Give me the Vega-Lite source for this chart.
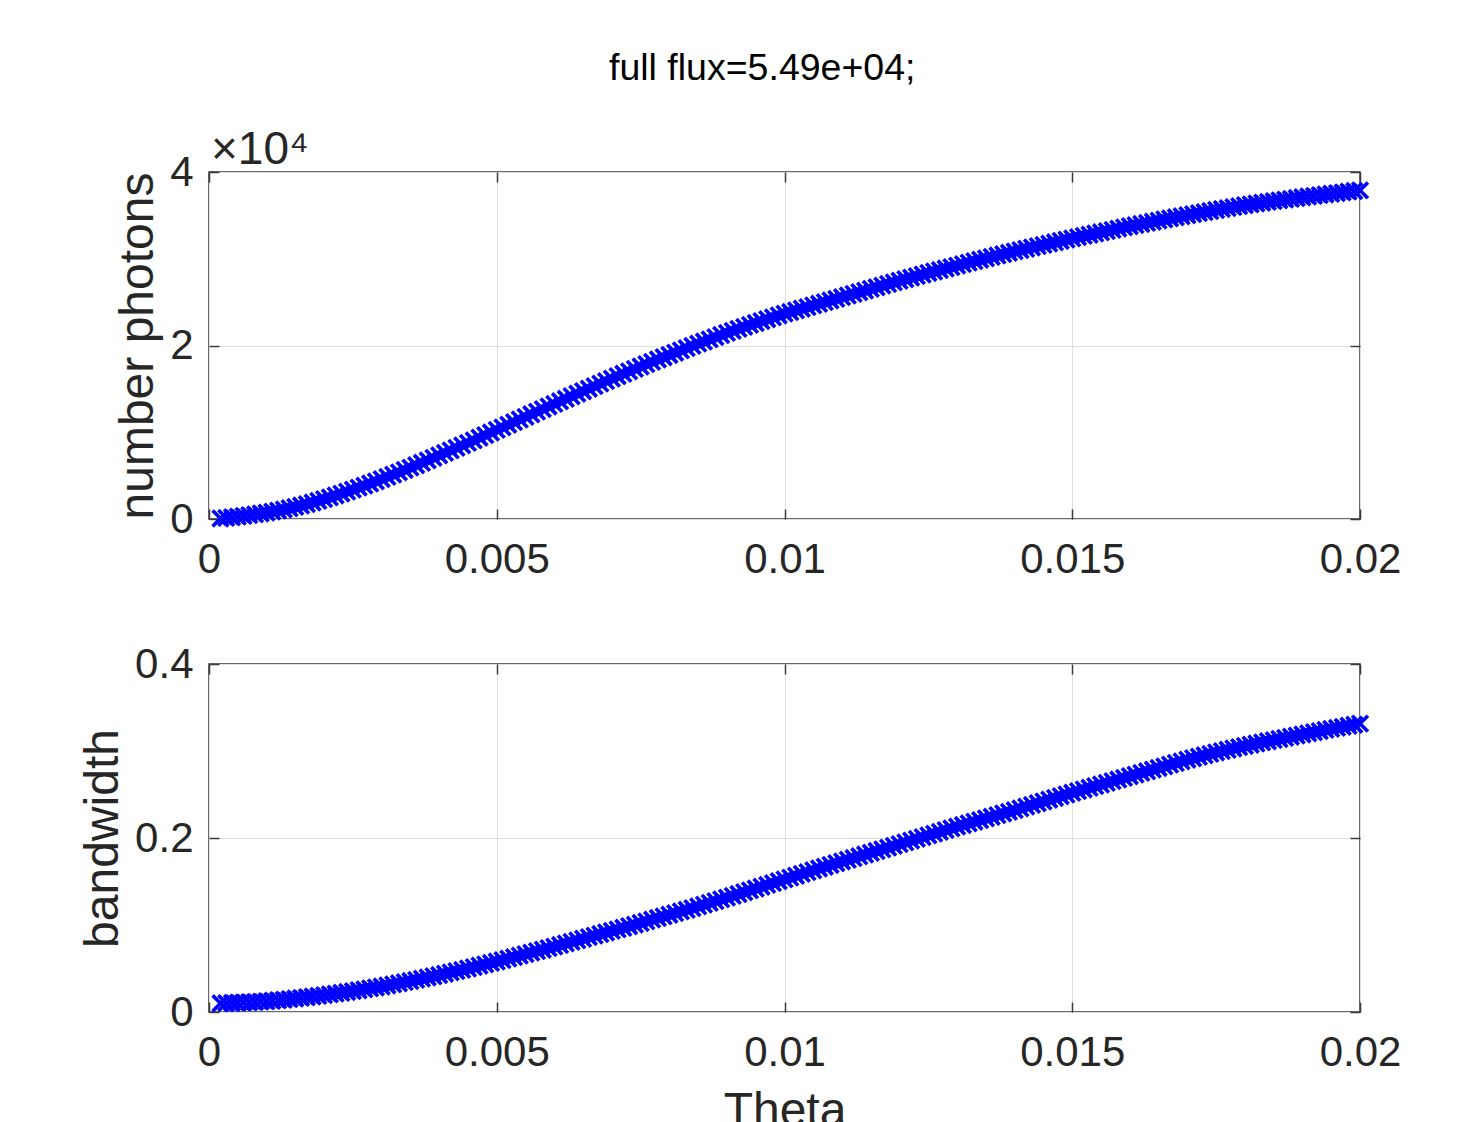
{
  "$schema": "https://vega.github.io/schema/vega-lite/v6.json",
  "background": "white",
  "padding": {"left": 78, "top": 49, "right": 10, "bottom": 0},
  "title": {
    "text": "full flux=5.49e+04;",
    "font": "Liberation Sans",
    "fontSize": 37.5,
    "fontWeight": "normal",
    "color": "#000000",
    "anchor": "middle",
    "offset": 39,
    "dx": 22
  },
  "data": {
    "values": [
      {"t":0.0002,"n":60,"b":0.0100},{"t":0.0003,"n":130,"b":0.0102},{"t":0.0004,"n":200,"b":0.0104},{"t":0.0005,"n":280,"b":0.0106},
      {"t":0.0006,"n":360,"b":0.0109},{"t":0.0007,"n":450,"b":0.0112},{"t":0.0008,"n":540,"b":0.0115},{"t":0.0009,"n":640,"b":0.0119},
      {"t":0.0010,"n":740,"b":0.0123},{"t":0.0011,"n":850,"b":0.0129},{"t":0.0012,"n":970,"b":0.0135},{"t":0.0013,"n":1100,"b":0.0141},
      {"t":0.0014,"n":1240,"b":0.0148},{"t":0.0015,"n":1390,"b":0.0155},{"t":0.0016,"n":1550,"b":0.0162},{"t":0.0017,"n":1720,"b":0.0170},
      {"t":0.0018,"n":1900,"b":0.0178},{"t":0.0019,"n":2090,"b":0.0186},{"t":0.0020,"n":2290,"b":0.0194},{"t":0.0021,"n":2500,"b":0.0203},
      {"t":0.0022,"n":2710,"b":0.0212},{"t":0.0023,"n":2930,"b":0.0221},{"t":0.0024,"n":3150,"b":0.0230},{"t":0.0025,"n":3380,"b":0.0240},
      {"t":0.0026,"n":3610,"b":0.0250},{"t":0.0027,"n":3850,"b":0.0260},{"t":0.0028,"n":4090,"b":0.0271},{"t":0.0029,"n":4340,"b":0.0282},
      {"t":0.0030,"n":4590,"b":0.0293},{"t":0.0031,"n":4850,"b":0.0305},{"t":0.0032,"n":5110,"b":0.0317},{"t":0.0033,"n":5380,"b":0.0330},
      {"t":0.0034,"n":5650,"b":0.0343},{"t":0.0035,"n":5920,"b":0.0356},{"t":0.0036,"n":6200,"b":0.0369},{"t":0.0037,"n":6480,"b":0.0383},
      {"t":0.0038,"n":6760,"b":0.0397},{"t":0.0039,"n":7040,"b":0.0411},{"t":0.0040,"n":7330,"b":0.0425},{"t":0.0041,"n":7620,"b":0.0440},
      {"t":0.0042,"n":7910,"b":0.0455},{"t":0.0043,"n":8200,"b":0.0470},{"t":0.0044,"n":8490,"b":0.0485},{"t":0.0045,"n":8780,"b":0.0500},
      {"t":0.0046,"n":9070,"b":0.0516},{"t":0.0047,"n":9370,"b":0.0532},{"t":0.0048,"n":9670,"b":0.0548},{"t":0.0049,"n":9970,"b":0.0564},
      {"t":0.0050,"n":10270,"b":0.0580},{"t":0.0051,"n":10570,"b":0.0597},{"t":0.0052,"n":10870,"b":0.0614},{"t":0.0053,"n":11170,"b":0.0631},
      {"t":0.0054,"n":11470,"b":0.0648},{"t":0.0055,"n":11770,"b":0.0665},{"t":0.0056,"n":12070,"b":0.0682},{"t":0.0057,"n":12370,"b":0.0699},
      {"t":0.0058,"n":12670,"b":0.0716},{"t":0.0059,"n":12970,"b":0.0734},{"t":0.0060,"n":13270,"b":0.0752},{"t":0.0061,"n":13570,"b":0.0770},
      {"t":0.0062,"n":13860,"b":0.0788},{"t":0.0063,"n":14150,"b":0.0806},{"t":0.0064,"n":14440,"b":0.0824},{"t":0.0065,"n":14730,"b":0.0842},
      {"t":0.0066,"n":15020,"b":0.0860},{"t":0.0067,"n":15310,"b":0.0878},{"t":0.0068,"n":15600,"b":0.0896},{"t":0.0069,"n":15890,"b":0.0914},
      {"t":0.0070,"n":16180,"b":0.0932},{"t":0.0071,"n":16460,"b":0.0950},{"t":0.0072,"n":16740,"b":0.0968},{"t":0.0073,"n":17020,"b":0.0986},
      {"t":0.0074,"n":17300,"b":0.1004},{"t":0.0075,"n":17580,"b":0.1023},{"t":0.0076,"n":17850,"b":0.1042},{"t":0.0077,"n":18120,"b":0.1061},
      {"t":0.0078,"n":18390,"b":0.1080},{"t":0.0079,"n":18650,"b":0.1099},{"t":0.0080,"n":18910,"b":0.1118},{"t":0.0081,"n":19170,"b":0.1137},
      {"t":0.0082,"n":19430,"b":0.1156},{"t":0.0083,"n":19690,"b":0.1175},{"t":0.0084,"n":19950,"b":0.1194},{"t":0.0085,"n":20210,"b":0.1214},
      {"t":0.0086,"n":20460,"b":0.1234},{"t":0.0087,"n":20710,"b":0.1254},{"t":0.0088,"n":20960,"b":0.1274},{"t":0.0089,"n":21210,"b":0.1294},
      {"t":0.0090,"n":21450,"b":0.1314},{"t":0.0091,"n":21680,"b":0.1335},{"t":0.0092,"n":21910,"b":0.1356},{"t":0.0093,"n":22140,"b":0.1377},
      {"t":0.0094,"n":22370,"b":0.1398},{"t":0.0095,"n":22590,"b":0.1419},{"t":0.0096,"n":22810,"b":0.1440},{"t":0.0097,"n":23030,"b":0.1461},
      {"t":0.0098,"n":23250,"b":0.1482},{"t":0.0099,"n":23460,"b":0.1503},{"t":0.0100,"n":23670,"b":0.1524},{"t":0.0101,"n":23860,"b":0.1545},
      {"t":0.0102,"n":24050,"b":0.1566},{"t":0.0103,"n":24240,"b":0.1587},{"t":0.0104,"n":24430,"b":0.1608},{"t":0.0105,"n":24620,"b":0.1629},
      {"t":0.0106,"n":24810,"b":0.1650},{"t":0.0107,"n":25000,"b":0.1670},{"t":0.0108,"n":25190,"b":0.1690},{"t":0.0109,"n":25380,"b":0.1710},
      {"t":0.0110,"n":25570,"b":0.1730},{"t":0.0111,"n":25760,"b":0.1750},{"t":0.0112,"n":25950,"b":0.1770},{"t":0.0113,"n":26140,"b":0.1790},
      {"t":0.0114,"n":26330,"b":0.1810},{"t":0.0115,"n":26520,"b":0.1830},{"t":0.0116,"n":26710,"b":0.1850},{"t":0.0117,"n":26900,"b":0.1870},
      {"t":0.0118,"n":27090,"b":0.1890},{"t":0.0119,"n":27280,"b":0.1910},{"t":0.0120,"n":27460,"b":0.1930},{"t":0.0121,"n":27640,"b":0.1950},
      {"t":0.0122,"n":27820,"b":0.1970},{"t":0.0123,"n":28000,"b":0.1990},{"t":0.0124,"n":28180,"b":0.2010},{"t":0.0125,"n":28360,"b":0.2030},
      {"t":0.0126,"n":28530,"b":0.2050},{"t":0.0127,"n":28700,"b":0.2070},{"t":0.0128,"n":28870,"b":0.2090},{"t":0.0129,"n":29040,"b":0.2110},
      {"t":0.0130,"n":29210,"b":0.2130},{"t":0.0131,"n":29380,"b":0.2149},{"t":0.0132,"n":29550,"b":0.2168},{"t":0.0133,"n":29720,"b":0.2187},
      {"t":0.0134,"n":29890,"b":0.2206},{"t":0.0135,"n":30050,"b":0.2225},{"t":0.0136,"n":30210,"b":0.2244},{"t":0.0137,"n":30370,"b":0.2263},
      {"t":0.0138,"n":30530,"b":0.2282},{"t":0.0139,"n":30690,"b":0.2301},{"t":0.0140,"n":30850,"b":0.2320},{"t":0.0141,"n":31000,"b":0.2340},
      {"t":0.0142,"n":31150,"b":0.2360},{"t":0.0143,"n":31300,"b":0.2380},{"t":0.0144,"n":31450,"b":0.2400},{"t":0.0145,"n":31600,"b":0.2420},
      {"t":0.0146,"n":31750,"b":0.2440},{"t":0.0147,"n":31900,"b":0.2460},{"t":0.0148,"n":32050,"b":0.2480},{"t":0.0149,"n":32200,"b":0.2500},
      {"t":0.0150,"n":32350,"b":0.2520},{"t":0.0151,"n":32490,"b":0.2539},{"t":0.0152,"n":32630,"b":0.2558},{"t":0.0153,"n":32770,"b":0.2577},
      {"t":0.0154,"n":32910,"b":0.2596},{"t":0.0155,"n":33050,"b":0.2615},{"t":0.0156,"n":33190,"b":0.2634},{"t":0.0157,"n":33330,"b":0.2653},
      {"t":0.0158,"n":33470,"b":0.2672},{"t":0.0159,"n":33610,"b":0.2691},{"t":0.0160,"n":33750,"b":0.2710},{"t":0.0161,"n":33880,"b":0.2729},
      {"t":0.0162,"n":34010,"b":0.2748},{"t":0.0163,"n":34140,"b":0.2767},{"t":0.0164,"n":34270,"b":0.2786},{"t":0.0165,"n":34400,"b":0.2805},
      {"t":0.0166,"n":34530,"b":0.2824},{"t":0.0167,"n":34660,"b":0.2843},{"t":0.0168,"n":34780,"b":0.2862},{"t":0.0169,"n":34900,"b":0.2881},
      {"t":0.0170,"n":35020,"b":0.2900},{"t":0.0171,"n":35140,"b":0.2917},{"t":0.0172,"n":35260,"b":0.2934},{"t":0.0173,"n":35380,"b":0.2951},
      {"t":0.0174,"n":35500,"b":0.2967},{"t":0.0175,"n":35620,"b":0.2983},{"t":0.0176,"n":35730,"b":0.2999},{"t":0.0177,"n":35840,"b":0.3014},
      {"t":0.0178,"n":35950,"b":0.3029},{"t":0.0179,"n":36060,"b":0.3044},{"t":0.0180,"n":36170,"b":0.3058},{"t":0.0181,"n":36270,"b":0.3072},
      {"t":0.0182,"n":36370,"b":0.3086},{"t":0.0183,"n":36460,"b":0.3099},{"t":0.0184,"n":36550,"b":0.3112},{"t":0.0185,"n":36640,"b":0.3125},
      {"t":0.0186,"n":36730,"b":0.3138},{"t":0.0187,"n":36820,"b":0.3151},{"t":0.0188,"n":36910,"b":0.3164},{"t":0.0189,"n":37000,"b":0.3177},
      {"t":0.0190,"n":37090,"b":0.3190},{"t":0.0191,"n":37170,"b":0.3203},{"t":0.0192,"n":37250,"b":0.3216},{"t":0.0193,"n":37330,"b":0.3229},
      {"t":0.0194,"n":37410,"b":0.3242},{"t":0.0195,"n":37490,"b":0.3254},{"t":0.0196,"n":37570,"b":0.3266},{"t":0.0197,"n":37650,"b":0.3278},
      {"t":0.0198,"n":37730,"b":0.3290},{"t":0.0199,"n":37810,"b":0.3302},{"t":0.0200,"n":37890,"b":0.3314}
    ]
  },
  "spacing": 61,
  "vconcat": [
    {
      "width": 1151,
      "height": 347,
      "title": {
        "text": "×10⁴",
        "anchor": "start",
        "frame": "group",
        "font": "Liberation Sans",
        "fontSize": 46,
        "fontWeight": "normal",
        "color": "#262626",
        "offset": -23,
        "dx": 2
      },
      "layer": [
        {
          "mark": {
            "type": "point",
            "shape": "M-1,-1L1,1M-1,1L1,-1",
            "filled": false,
            "stroke": "#0000ff",
            "strokeWidth": 3.6,
            "size": 250,
            "opacity": 1
          },
          "encoding": {
            "x": {
              "field": "t",
              "type": "quantitative",
              "scale": {"domain": [0, 0.02], "nice": false},
              "axis": {"values": [0, 0.005, 0.01, 0.015, 0.02], "format": "~g", "title": null}
            },
            "y": {
              "field": "n",
              "type": "quantitative",
              "scale": {"domain": [0, 40000], "nice": false},
              "axis": {"values": [0, 20000, 40000], "labelExpr": "format(datum.value / 10000, '~g')", "title": "number photons"}
            }
          }
        },
        {
          "mark": {"type": "point", "opacity": 0},
          "encoding": {
            "x": {
              "field": "t",
              "type": "quantitative",
              "scale": {"domain": [0, 0.02], "nice": false},
              "axis": {"orient": "top", "values": [0, 0.005, 0.01, 0.015, 0.02], "labels": false, "grid": false, "title": null}
            },
            "y": {
              "field": "n",
              "type": "quantitative",
              "scale": {"domain": [0, 40000], "nice": false},
              "axis": {"orient": "right", "values": [0, 20000, 40000], "labels": false, "grid": false, "title": null}
            }
          }
        }
      ],
      "resolve": {"axis": {"x": "independent", "y": "independent"}}
    },
    {
      "width": 1151,
      "height": 348,
      "layer": [
        {
          "mark": {
            "type": "point",
            "shape": "M-1,-1L1,1M-1,1L1,-1",
            "filled": false,
            "stroke": "#0000ff",
            "strokeWidth": 3.6,
            "size": 250,
            "opacity": 1
          },
          "encoding": {
            "x": {
              "field": "t",
              "type": "quantitative",
              "scale": {"domain": [0, 0.02], "nice": false},
              "axis": {"values": [0, 0.005, 0.01, 0.015, 0.02], "format": "~g", "title": "Theta"}
            },
            "y": {
              "field": "b",
              "type": "quantitative",
              "scale": {"domain": [0, 0.4], "nice": false},
              "axis": {"values": [0, 0.2, 0.4], "format": "~g", "title": "bandwidth"}
            }
          }
        },
        {
          "mark": {"type": "point", "opacity": 0},
          "encoding": {
            "x": {
              "field": "t",
              "type": "quantitative",
              "scale": {"domain": [0, 0.02], "nice": false},
              "axis": {"orient": "top", "values": [0, 0.005, 0.01, 0.015, 0.02], "labels": false, "grid": false, "title": null}
            },
            "y": {
              "field": "b",
              "type": "quantitative",
              "scale": {"domain": [0, 0.4], "nice": false},
              "axis": {"orient": "right", "values": [0, 0.2, 0.4], "labels": false, "grid": false, "title": null}
            }
          }
        }
      ],
      "resolve": {"axis": {"x": "independent", "y": "independent"}}
    }
  ],
  "config": {
    "view": {"stroke": "#3a3a3a", "strokeWidth": 1.5},
    "axis": {
      "labelFont": "Liberation Sans",
      "labelFontSize": 42,
      "labelColor": "#262626",
      "titleFont": "Liberation Sans",
      "titleFontSize": 48,
      "titleFontWeight": "normal",
      "titleColor": "#262626",
      "domain": false,
      "grid": true,
      "gridColor": "#dedede",
      "gridWidth": 1,
      "ticks": true,
      "tickSize": -10,
      "tickColor": "#3a3a3a",
      "tickWidth": 1.5,
      "labelFlush": false,
      "labelOverlap": false
    },
    "axisX": {"labelPadding": 30, "titlePadding": 14},
    "axisY": {"labelPadding": 26, "titlePadding": 7}
  }
}
